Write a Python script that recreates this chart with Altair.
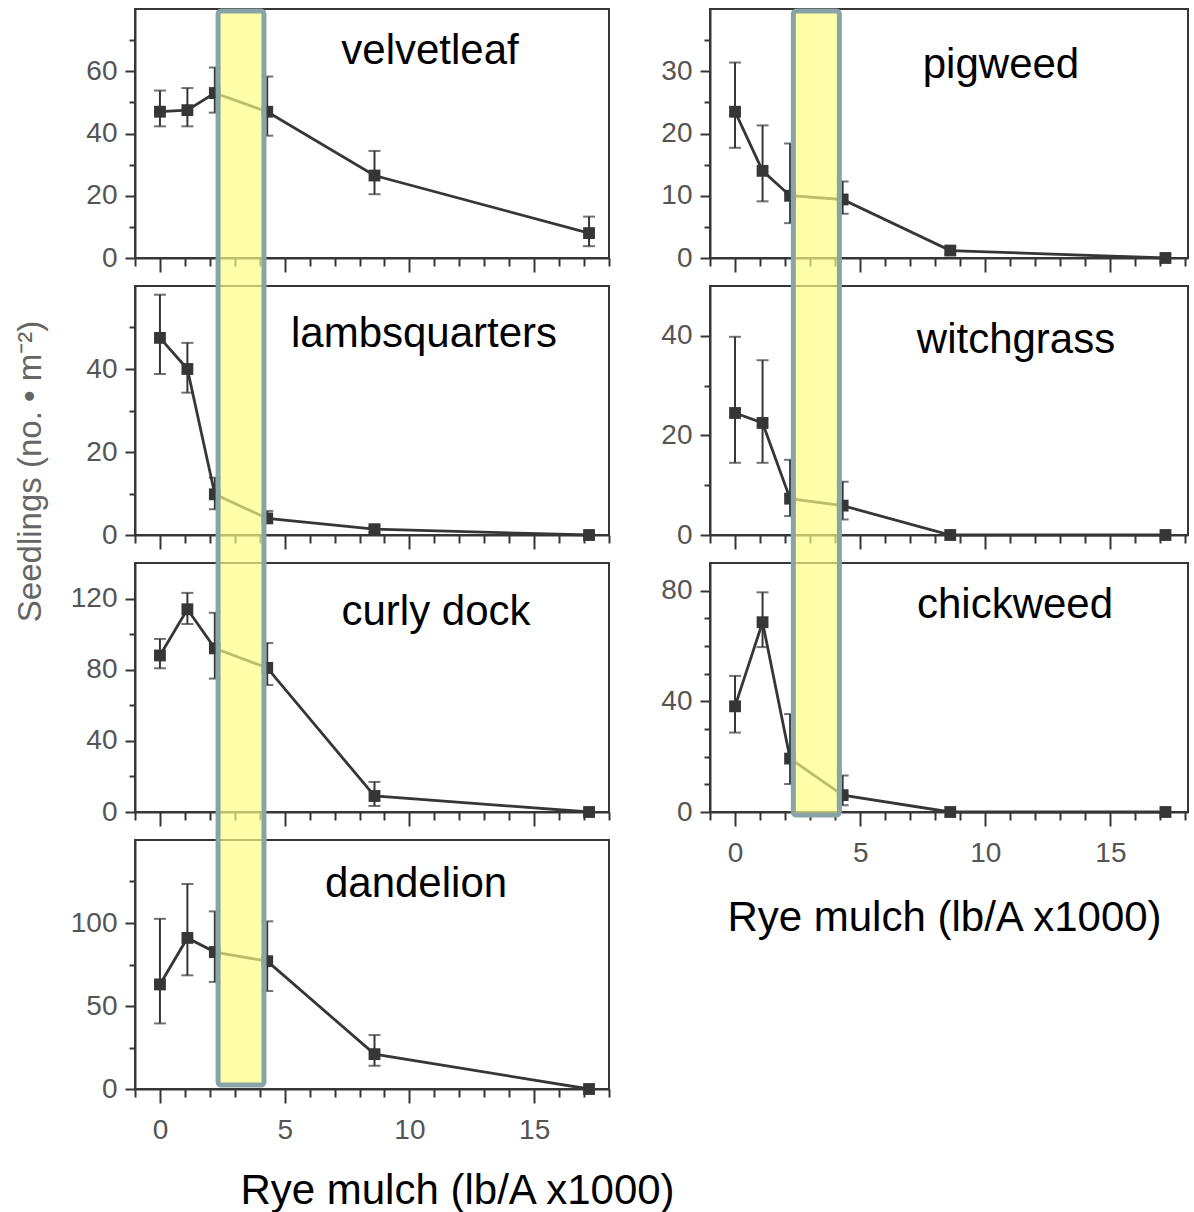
import altair as alt
import pandas as pd

# ---------------- data ----------------
rye_x = [0, 1.1, 2.2, 4.3, 8.6, 17.2]          # rye mulch, lb/A x1000
highlight_range = [2.33, 4.17]

velvetleaf_mean = [47, 47.5, 53, 47, 26.5, 8]
velvetleaf_low = [42.3, 42.3, 46.7, 39.3, 20.5, 3.8]
velvetleaf_high = [53.8, 54.6, 61.2, 58.3, 34.4, 13.3]

lambsquarters_mean = [47.5, 40, 9.8, 4, 1.4, 0]
lambsquarters_low = [38.8, 34.3, 6.2, 3.0, 0.6, 0]
lambsquarters_high = [57.9, 46.3, 13.8, 5.8, 2.2, 0]

curlydock_mean = [88, 114, 92, 81, 9, 0]
curlydock_low = [80.8, 105.7, 75, 71.4, 3.4, 0]
curlydock_high = [97.3, 123.2, 112, 95, 16.9, 0]

dandelion_mean = [63, 91, 82.5, 77, 21, 0]
dandelion_low = [39.5, 68.5, 64.5, 59, 14, 0]
dandelion_high = [102.5, 123.5, 107, 101, 32.5, 0]

pigweed_mean = [23.5, 14, 10, 9.4, 1.2, 0]
pigweed_low = [17.7, 9.1, 5.6, 7.1, 0.6, 0]
pigweed_high = [31.4, 21.3, 18.4, 12.3, 1.8, 0]

witchgrass_mean = [24.5, 22.5, 7.3, 5.9, 0, 0]
witchgrass_low = [14.5, 14.5, 3.8, 3.1, 0, 0]
witchgrass_high = [39.8, 35.1, 15.1, 10.7, 0, 0]

chickweed_mean = [38.2, 68.6, 19.3, 6.1, 0, 0]
chickweed_low = [28.7, 59.6, 10.1, 2.4, 0, 0]
chickweed_high = [49.2, 79.4, 35.4, 13.2, 0, 0]

x_ticks = list(range(-1, 19))
x_title = "Rye mulch (lb/A x1000)"
y_title = "Seedlings (no. \u2022 m\u207b\u00b2)"

# ---------------- style ----------------
DARK = "#363636"
FONT = "Liberation Sans"
H = 249
ROW_GAP = 28
PITCH = H + ROW_GAP


def panel(name, mean, low, high, ymax, minor, major, width, xmax, label_xy,
          bottom=False, xtitle_xy=None, ytitle_xy=None, hl=None):
    df = pd.DataFrame({"rye": rye_x, "mean": mean, "low": low, "high": high})
    xscale = alt.Scale(domain=[-1, xmax], nice=False, zero=False)
    yscale = alt.Scale(domain=[0, ymax], nice=False)

    xaxis_kw = dict(
        values=x_ticks,
        labelExpr="datum.value % 5 === 0 ? datum.label : ''",
        labels=bottom,
        tickSize={"condition": {"test": "datum.value % 5 === 0", "value": 14}, "value": 8},
        labelPadding=13,
        grid=False,
    )
    if bottom:
        xaxis_kw.update(title=x_title, titleX=xtitle_xy[0], titleY=xtitle_xy[1],
                        titleFontSize=42, titleFont=FONT, titleFontWeight="normal",
                        titleColor="#000000", titleAlign="center", titleBaseline="middle")
    xaxis = alt.Axis(**xaxis_kw)

    yaxis_kw = dict(
        values=list(range(0, ymax, minor)),
        labelExpr="datum.value %% %d === 0 ? datum.label : ''" % major,
        tickSize={"condition": {"test": "datum.value %% %d === 0" % major, "value": 10}, "value": 6},
        labelPadding=8,
        grid=False,
    )
    if ytitle_xy is not None:
        yaxis_kw.update(title=y_title, titleX=ytitle_xy[0], titleY=ytitle_xy[1],
                        titleFontSize=33, titleFont=FONT, titleFontWeight="normal",
                        titleColor="#666666", titleAngle=270, titleAlign="center",
                        titleBaseline="middle")
    yaxis = alt.Axis(**yaxis_kw)
    ytitle_val = y_title if ytitle_xy is not None else None
    xtitle_val = x_title if bottom else None

    def X(field):
        return alt.X(field, type="quantitative", scale=xscale, axis=xaxis, title=xtitle_val)

    def Y(field):
        return alt.Y(field, type="quantitative", scale=yscale, axis=yaxis, title=ytitle_val)

    base = alt.Chart(df)
    err = base.mark_rule(color=DARK, strokeWidth=2).encode(x=X("rye"), y=Y("low"), y2="high:Q")
    cap_lo = base.mark_tick(orient="horizontal", size=12, thickness=2, color=DARK).encode(
        x=X("rye"), y=Y("low"))
    cap_hi = base.mark_tick(orient="horizontal", size=12, thickness=2, color=DARK).encode(
        x=X("rye"), y=Y("high"))
    line = base.mark_line(color=DARK, strokeWidth=2.8).encode(x=X("rye"), y=Y("mean"))
    pts = base.mark_square(size=140, color=DARK, opacity=1).encode(x=X("rye"), y=Y("mean"))
    lab = alt.Chart(pd.DataFrame({"name": [name]})).mark_text(
        font=FONT, fontSize=42, color="#000000", align="center", baseline="middle"
    ).encode(x=alt.value(label_xy[0]), y=alt.value(label_xy[1]), text="name:N")

    layers = [err, cap_lo, cap_hi, line, pts, lab]
    if hl is not None:
        hdf = pd.DataFrame({"x1": [highlight_range[0]], "x2": [highlight_range[1]]})
        rect = alt.Chart(hdf).mark_rect(
            fill="#ffff80", fillOpacity=0.68, stroke="#8aa3a6", strokeWidth=5, cornerRadius=3
        ).encode(x=X("x1"), x2="x2:Q", y=alt.value(hl[0]), y2=alt.value(hl[1]))
        layers.append(rect)
    return alt.layer(*layers).properties(width=width, height=H)


WL, WR = 474, 478
p_velvet = panel("velvetleaf", velvetleaf_mean, velvetleaf_low, velvetleaf_high,
                 80, 10, 20, WL, 18.0, (295, 42))
p_pig = panel("pigweed", pigweed_mean, pigweed_low, pigweed_high,
              40, 5, 10, WR, 18.1, (291, 56))
p_lamb = panel("lambsquarters", lambsquarters_mean, lambsquarters_low, lambsquarters_high,
               60, 10, 20, WL, 18.0, (289, 48), ytitle_xy=(-105, 185))
p_witch = panel("witchgrass", witchgrass_mean, witchgrass_low, witchgrass_high,
                50, 10, 20, WR, 18.1, (306, 54))
p_curly = panel("curly dock", curlydock_mean, curlydock_low, curlydock_high,
                140, 20, 40, WL, 18.0, (301, 49))
p_chick = panel("chickweed", chickweed_mean, chickweed_low, chickweed_high,
                90, 10, 40, WR, 18.1, (305, 42), bottom=True, xtitle_xy=(234, 105),
                hl=(-2 * PITCH + 2, H + 3))
p_dand = panel("dandelion", dandelion_mean, dandelion_low, dandelion_high,
               150, 25, 50, WL, 18.0, (281, 44), bottom=True, xtitle_xy=(322, 101),
               hl=(-3 * PITCH + 2, H - 4))

chart = alt.concat(
    p_velvet, p_pig, p_lamb, p_witch, p_curly, p_chick, p_dand,
    columns=2, spacing={"row": ROW_GAP, "column": 101}, bounds="flush"
).properties(
    padding={"left": 13, "top": 7, "right": 0, "bottom": 0},
    background="#ffffff",
).configure_view(
    stroke=DARK, strokeWidth=2
).configure_axis(
    domainColor=DARK, domainWidth=2, tickColor=DARK, tickWidth=2,
    labelColor="#555555", labelFont=FONT, labelFontSize=28,
)

chart.save("out.html", embed_options={"renderer": "svg", "actions": False})
